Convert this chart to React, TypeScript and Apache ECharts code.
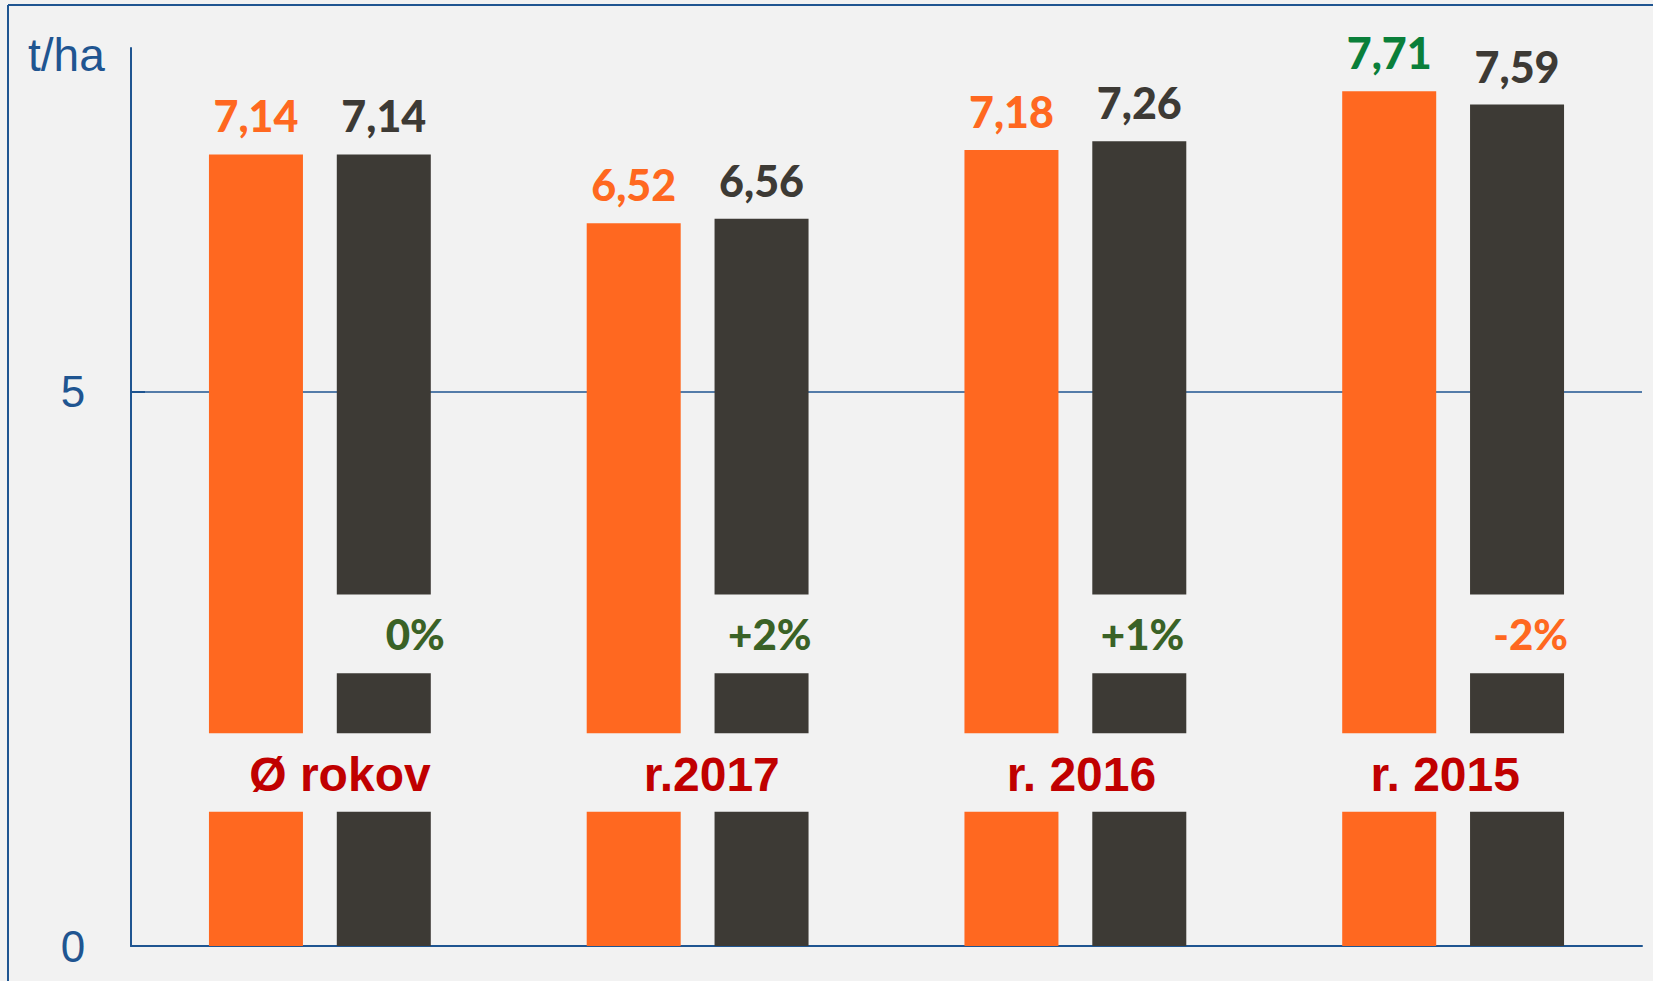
import React, { useEffect, useRef } from 'react';
import * as echarts from 'echarts';

// ---- data ----
const categories = ['Ø rokov', 'r.2017', 'r. 2016', 'r. 2015'];
const orangeValues = [7.14, 6.52, 7.18, 7.71];
const darkValues = [7.14, 6.56, 7.26, 7.59];
const changeLabels = ['0%', '+2%', '+1%', '-2%'];
const yTickValues = [0, 5];
const yAxisName = 't/ha';
// breaks in the bars (t/ha)
const categoryBand = [1.21, 1.92];
const changeBand = [2.46, 3.17];

// ---- styles ----
const ORANGE = '#ff6820';
const DARK = '#3d3a35';
const GREEN = '#0a7f3a';
const OLIVE = '#3a6226';
const RED = '#c00000';
const BLUE = '#1f5591';
const BG = '#f2f2f2';
const NONE = 'rgba(0,0,0,0)';
// horizontal pixel shifts of the category captions (text layout of the original)
const captionShift = [84, 78, 70, 56];
const changeShift = [19, 8, 3, 9];

const fmt = (v: number) => v.toFixed(2).replace('.', ',');

export default function App() {
  const ref = useRef<HTMLDivElement>(null);

  useEffect(() => {
    if (!ref.current) return;
    const chart = echarts.init(ref.current, undefined, { renderer: 'svg' });

    const common: any = { type: 'bar', barWidth: 94, barGap: '36%', z: 2 };
    const valueLabel = {
      show: true,
      position: 'top',
      distance: 17,
      fontFamily: 'Lato',
      fontWeight: 900,
      fontSize: 43,
    };

    const option: any = {
      animation: false,
      backgroundColor: BG,
      grid: { left: 131, right: 11, top: 48, bottom: 35, containLabel: false },
      xAxis: {
        type: 'category',
        data: categories,
        axisLine: { show: true, lineStyle: { color: BLUE, width: 2 } },
        axisTick: { show: false },
        axisLabel: { show: false },
        splitLine: { show: false },
      },
      yAxis: {
        type: 'value',
        min: 0,
        max: 8.1,
        interval: 5,
        axisLine: { show: true, lineStyle: { color: BLUE, width: 2 } },
        axisTick: { show: true, inside: true, length: 14, customValues: yTickValues, lineStyle: { color: BLUE, width: 2 } },
        axisLabel: {
          customValues: yTickValues,
          formatter: (v: number) => (yTickValues.includes(v) ? String(v) : ''),
          align: 'center',
          margin: 58,
          color: BLUE,
          fontFamily: 'Liberation Sans',
          fontSize: 44,
        },
        splitLine: { show: false },
      },
      graphic: [
        { type: 'line', shape: { x1: 8, y1: 5, x2: 1653, y2: 5 }, style: { stroke: BLUE, lineWidth: 2 } },
        { type: 'line', shape: { x1: 8, y1: 5, x2: 8, y2: 981 }, style: { stroke: BLUE, lineWidth: 2 } },
        {
          type: 'text',
          x: 28,
          y: 55,
          style: {
            text: yAxisName,
            fill: BLUE,
            font: '46px "Liberation Sans"',
            verticalAlign: 'middle',
            align: 'left',
          },
        },
      ],
      series: [
        {
          type: 'line',
          data: [],
          z: 1,
          markLine: {
            silent: true,
            z: 1,
            symbol: ['none', 'none'],
            label: { show: false },
            lineStyle: { color: BLUE, width: 1.5, type: 'solid' },
            data: [{ yAxis: yTickValues[1] }],
          },
        },
        // orange stack
        { ...common, stack: 'o', data: categories.map(() => categoryBand[0]), itemStyle: { color: ORANGE } },
        {
          ...common,
          stack: 'o',
          data: categories.map((_, i) => ({
            value: categoryBand[1] - categoryBand[0],
            label: { offset: [captionShift[i], 2] },
          })),
          itemStyle: { color: NONE },
          label: {
            show: true,
            position: 'inside',
            formatter: (p: any) => categories[p.dataIndex],
            color: RED,
            fontFamily: 'Liberation Sans',
            fontWeight: 'bold',
            fontSize: 48,
          },
        },
        {
          ...common,
          stack: 'o',
          data: orangeValues.map((v, i) => ({
            value: v - categoryBand[1],
            label: { color: v > darkValues[i] ? GREEN : ORANGE },
          })),
          itemStyle: { color: ORANGE },
          label: { ...valueLabel, formatter: (p: any) => fmt(orangeValues[p.dataIndex]) },
        },
        // dark stack
        { ...common, stack: 'd', data: categories.map(() => categoryBand[0]), itemStyle: { color: DARK } },
        { ...common, stack: 'd', data: categories.map(() => categoryBand[1] - categoryBand[0]), itemStyle: { color: NONE } },
        { ...common, stack: 'd', data: categories.map(() => changeBand[0] - categoryBand[1]), itemStyle: { color: DARK } },
        {
          ...common,
          stack: 'd',
          data: changeLabels.map((c, i) => ({
            value: changeBand[1] - changeBand[0],
            label: { color: c.startsWith('-') ? ORANGE : OLIVE, offset: [changeShift[i], 0] },
          })),
          itemStyle: { color: NONE },
          label: {
            show: true,
            position: 'insideRight',
            formatter: (p: any) => changeLabels[p.dataIndex],
            fontFamily: 'Lato',
            fontWeight: 900,
            fontSize: 42,
          },
        },
        {
          ...common,
          stack: 'd',
          data: darkValues.map((v) => v - changeBand[1]),
          itemStyle: { color: DARK },
          label: { ...valueLabel, color: DARK, formatter: (p: any) => fmt(darkValues[p.dataIndex]) },
        },
      ],
    };

    chart.setOption(option);
    return () => chart.dispose();
  }, []);

  return (
    <div
      ref={ref}
      style={{ position: 'fixed', left: 0, top: 0, width: 1653, height: 981 }}
    />
  );
}
